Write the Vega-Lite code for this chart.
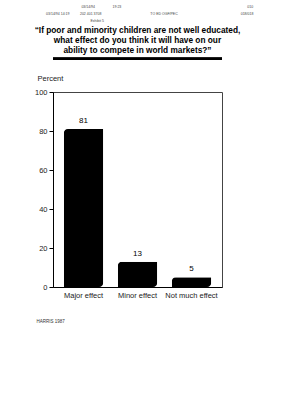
{
  "$schema": "https://vega.github.io/schema/vega-lite/v6.json",
  "autosize": "none",
  "width": 169,
  "height": 195,
  "padding": {"left": 53, "top": 92, "right": 83, "bottom": 113},
  "background": "white",
  "config": {
    "font": "Liberation Sans",
    "view": {"stroke": "#444", "strokeWidth": 1},
    "axis": {"grid": false, "domainColor": "#000", "tickColor": "#000", "labelColor": "#222", "labelFont": "Liberation Sans", "labelOverlap": false}
  },
  "title": {
    "text": [
      "\u200b\u2003\u2003\u2003\u2003\u2003\u2003\u2003\u2003\u2003\u2003\u2003\u2003\u2003\u2003\u2003\u2003\u200303/14/94\u2003\u2003\u2003\u2003\u200319:23\u2003\u2003\u2003\u2003\u2003\u2003\u2003\u2003\u2003\u2003\u2003\u2003\u2003\u2003\u2003\u2003\u2003\u2003\u2003\u2003\u2003\u2003\u2003\u2003\u2003\u2003\u2003\u2003\u2003\u2003\u2003\u2003\u2003\u2003\u2003\u2003010",
      "\u200b\u2003\u2003\u2003\u2003\u2003\u2003\u200303/14/94 14:19\u2003\u2003\u2003202 401 3708\u2003\u2003\u2003\u2003\u2003\u2003\u2003\u2003\u2003\u2003\u2003\u2003\u2003\u2003TO ED OGF/PEC\u2003\u2003\u2003\u2003\u2003\u2003\u2003\u2003\u2003\u2003\u2003\u2003\u2003\u2003\u2003\u2003\u2003\u2003018/018",
      "Exhibit 5\u2003\u2003\u2003\u2003\u2003\u2003\u2003\u2003\u2003\u2003\u2003\u2003\u2003\u2003\u2003\u2003\u2003\u2003\u2003\u2003\u2003\u2003\u2003\u200b"
    ],
    "fontSize": 3.5,
    "fontWeight": "normal",
    "color": "#444",
    "lineHeight": 7,
    "subtitle": ["\u201cIf poor and minority children are not well educated,", "what effect do you think it will have on our", "ability to compete in world markets?\u201d"],
    "subtitleFontSize": 8.3,
    "subtitleFontWeight": "bold",
    "subtitleColor": "#000",
    "subtitleLineHeight": 10,
    "subtitlePadding": 4,
    "anchor": "middle",
    "offset": 3
  },
  "data": {
    "values": [
      {"effect": "Major effect", "percent": 81},
      {"effect": "Minor effect", "percent": 13},
      {"effect": "Not much effect", "percent": 5}
    ]
  },
  "encoding": {
    "x": {
      "field": "effect",
      "type": "nominal",
      "sort": null,
      "scale": {"paddingInner": 0.27, "paddingOuter": 0.2},
      "axis": {"labelAngle": 0, "labelFontSize": 7.5, "labelPadding": 4, "ticks": false, "title": "HARRIS 1987", "titleFontSize": 4.5, "titleFontWeight": "normal", "titleColor": "#333", "titleAlign": "left", "titleAnchor": "start", "titleX": -17, "titleY": 31}
    },
    "y": {
      "field": "percent",
      "type": "quantitative",
      "scale": {"domain": [0, 100]},
      "axis": {"values": [0, 20, 40, 60, 80, 100], "labelFontSize": 7.5, "tickSize": 4, "labelPadding": 2, "title": "Percent", "titleAngle": 0, "titleFontSize": 7.5, "titleFontWeight": "normal", "titleColor": "#222", "titleAlign": "left", "titleX": -16, "titleY": -10}
    }
  },
  "layer": [
    {
      "mark": {"type": "bar", "color": "#000", "cornerRadiusTopLeft": 4, "cornerRadiusBottomRight": 4}
    },
    {
      "mark": {"type": "text", "dy": -8, "fontSize": 8, "color": "#000"},
      "encoding": {
        "text": {"field": "percent", "type": "quantitative"}
      }
    },
    {
      "mark": {"type": "rule", "color": "#000", "strokeWidth": 2.5, "clip": false},
      "encoding": {"x": null, "y": {"datum": 117}}
    }
  ]
}
